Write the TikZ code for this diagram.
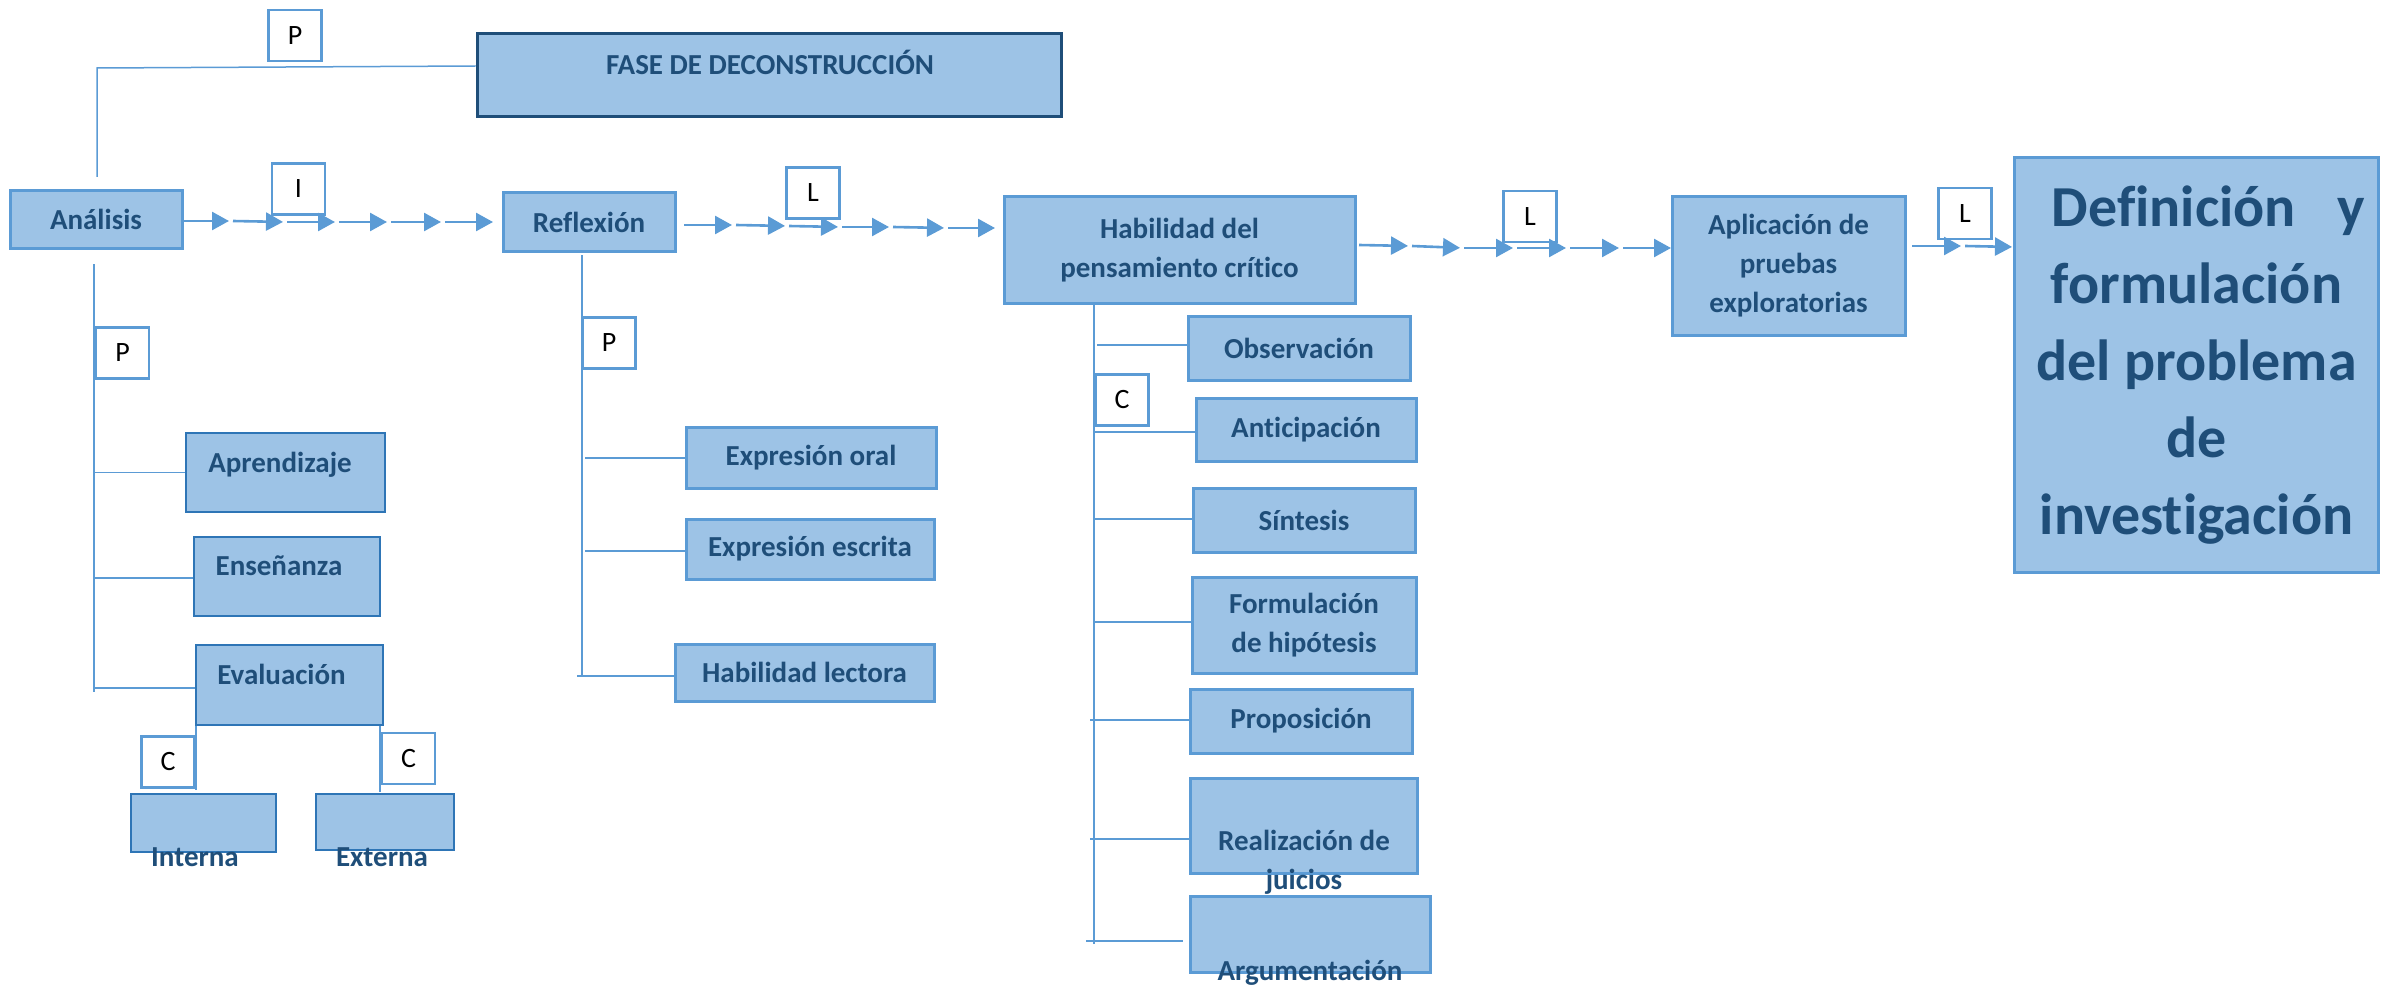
\documentclass[tikz,border=0pt]{standalone}
\usepackage{fontspec}
\setmainfont{Carlito}[Ligatures=NoCommon]
\usetikzlibrary{arrows.meta}
\definecolor{relleno}{HTML}{9DC3E6}
\definecolor{borde}{HTML}{5B9BD5}
\definecolor{bordeosc}{HTML}{2E75B6}
\definecolor{marino}{HTML}{1F4E79}
\newcommand{\fuentecaja}{\bfseries\fontsize{29}{39}\selectfont}
\newcommand{\fuentegrande}{\bfseries\fontsize{58}{77}\selectfont}
\newcommand{\fuenteletra}{\fontsize{28}{34}\selectfont}

\begin{document}
\begin{tikzpicture}[x=1pt, y=-1pt,
    tam/.style 2 args={minimum width=#1pt, minimum height=#2pt},
    caja/.style={draw=borde, fill=relleno, line width=3pt, text=marino,
      font=\fuentecaja, align=center, inner sep=0pt},
    cajaosc/.style={caja, draw=bordeosc, line width=2.5pt},
    rotulo/.style={text=marino, font=\fuentecaja, align=center, inner sep=0pt},
    letra/.style={draw=borde, fill=white, line width=2.5pt, inner sep=0pt,
      tam={53}{51}, font=\fuenteletra},
    rama/.style={draw=borde, line width=1.5pt},
    flecha/.style={draw=borde, line width=2.6pt, shorten >=4pt,
      -{Triangle[length=17pt, width=18pt]}}]
  \useasboundingbox (0,0) rectangle (2382,987);

  % cajas
  \path
    (769,75.5) node[caja, draw=marino, tam={584}{83}] (fase) {}
    (96,219.5) node[caja, tam={172}{57}] (ana) {Análisis}
    (589,222) node[caja, tam={172}{58}] (ref) {Reflexión}
    (1179.5,250) node[caja, tam={351}{106}] (hab) {Habilidad del\\pensamiento crítico}
    (1788.5,266) node[caja, tam={233}{138}] (apl) {Aplicación de\\pruebas\\exploratorias}
    (2196.5,365) node[caja, tam={364}{414}, font=\fuentegrande] (def)
      {\hspace*{24pt}Definición\hspace{42pt}y\\formulación\hspace*{29pt}\\del problema\\de\\investigación}
    (285.5,472.5) node[cajaosc, tam={199}{79}] (apr) {}
    (287,576.5) node[cajaosc, tam={186}{79}] (ens) {}
    (289.5,685) node[cajaosc, tam={187}{80}] (eva) {}
    (203.5,823) node[cajaosc, tam={145}{58}] (int) {}
    (385,822) node[cajaosc, tam={138}{56}] (ext) {}
    (811,457.5) node[caja, tam={250}{61}] (expo) {Expresión oral}
    (810,549) node[caja, tam={248}{60}] (exps) {Expresión escrita}
    (804.5,672.5) node[caja, tam={259}{57}] (hlec) {Habilidad lectora}
    (1299,348) node[caja, tam={222}{64}] (obs) {Observación}
    (1306,429.5) node[caja, tam={220}{63}] (ant) {Anticipación}
    (1304,520) node[caja, tam={222}{64}] (sin) {Síntesis}
    (1304,625) node[caja, tam={224}{96}] (form) {Formulación\\de hipótesis}
    (1301,721) node[caja, tam={222}{64}] (pro) {Proposición}
    (1303.5,825.5) node[caja, tam={227}{95}] (rea) {}
    (1310,934) node[caja, tam={240}{76}] (arg) {};

  % textos sueltos
  \path
    (770,75) node[rotulo, anchor=base] (fasetxt) {FASE DE DECONSTRUCCIÓN}
    (280,472) node[rotulo, anchor=base] (aprtxt) {Aprendizaje}
    (279,575) node[rotulo, anchor=base] (enstxt) {Enseñanza}
    (281.5,684) node[rotulo, anchor=base] (evatxt) {Evaluación}
    (195,866) node[rotulo, anchor=base] (inttxt) {Interna}
    (382,866) node[rotulo, anchor=base] (exttxt) {Externa}
    (1304,862) node[rotulo] (reatxt) {Realización de\\juicios}
    (1310,980) node[rotulo, anchor=base] (argtxt) {Argumentación};

  % letras
  \path
    (295,35.5) node[letra] (p1) {P}
    (298.5,189) node[letra] (i1) {I}
    (813,193) node[letra] (l1) {L}
    (1530,216.5) node[letra] (l2) {L}
    (1965,213.5) node[letra] (l3) {L}
    (122.5,353) node[letra] (p2) {P}
    (609,343) node[letra] (p3) {P}
    (1122,400) node[letra] (c1) {C}
    (168,762) node[letra] (c2) {C}
    (408.5,758.5) node[letra] (c3) {C};

  % puntos de las ramas
  \path
    (97,68) coordinate (fa1) (97,177) coordinate (fa2)
    (94,264) coordinate (ta0) (94,692) coordinate (ta1)
    (94,472.5) coordinate (ba1) (94,578) coordinate (ba2) (94,688) coordinate (ba3)
    (196,790) coordinate (ei) (380,792) coordinate (ee)
    (582,255) coordinate (tr0) (582,676) coordinate (tr1)
    (585,458) coordinate (br1) (585,551) coordinate (br2) (577,676) coordinate (br3)
    (1094,303) coordinate (th0) (1094,944) coordinate (th1)
    (1097,345) coordinate (bh1) (1094,432) coordinate (bh2) (1094,519) coordinate (bh3)
    (1094,622) coordinate (bh4) (1090,720) coordinate (bh5) (1090,839) coordinate (bh6)
    (1086,941) coordinate (bh7) (1183,941) coordinate (bh8);

  \begin{scope}[rama]
    \draw ([yshift=9.5pt]fase.west) -- (fa1) -- (fa2);
    \draw (ta0) -- (ta1);
    \draw (ba1) -- (ba1 -| apr.west);
    \draw (ba2) -- (ba2 -| ens.west);
    \draw (ba3) -- (ba3 -| eva.west);
    \draw (ei |- eva.south) -- (ei);
    \draw (ee |- eva.south) -- (ee);
    \draw (tr0) -- (tr1);
    \draw (br1) -- (br1 -| expo.west);
    \draw (br2) -- (br2 -| exps.west);
    \draw (br3) -- (br3 -| hlec.west);
    \draw (th0) -- (th1);
    \draw (bh1) -- (bh1 -| obs.west);
    \draw (bh2) -- (bh2 -| ant.west);
    \draw (bh3) -- (bh3 -| sin.west);
    \draw (bh4) -- (bh4 -| form.west);
    \draw (bh5) -- (bh5 -| pro.west);
    \draw (bh6) -- (bh6 -| rea.west);
    \draw (bh7) -- (bh8);
  \end{scope}

  % cadenas de flechas
  \path
    (182,221) coordinate (a0) (233,221) coordinate (a1) (287,222) coordinate (a2)
    (339,222) coordinate (a3) (391,222) coordinate (a4) (445,222) coordinate (a5)
    (497,222) coordinate (a6)
    (684,225) coordinate (b0) (736,225) coordinate (b1) (789,226) coordinate (b2)
    (842,227) coordinate (b3) (893,227) coordinate (b4) (948,228) coordinate (b5)
    (999,228) coordinate (b6)
    (1359,245) coordinate (c0) (1412,246) coordinate (c1) (1464,248) coordinate (c2)
    (1517,248) coordinate (c3) (1570,248) coordinate (c4) (1623,248) coordinate (c5)
    (1675,248) coordinate (c6)
    (1912,246) coordinate (d0) (1965,246) coordinate (d1) (2016,247) coordinate (d2);

  \begin{scope}[flecha]
    \draw (a0) -- (a1);
    \draw (a1) -- (a2);
    \draw (a2) -- (a3);
    \draw (a3) -- (a4);
    \draw (a4) -- (a5);
    \draw (a5) -- (a6);
    \draw (b0) -- (b1);
    \draw (b1) -- (b2);
    \draw (b2) -- (b3);
    \draw (b3) -- (b4);
    \draw (b4) -- (b5);
    \draw (b5) -- (b6);
    \draw (c0) -- (c1);
    \draw (c1) -- (c2);
    \draw (c2) -- (c3);
    \draw (c3) -- (c4);
    \draw (c4) -- (c5);
    \draw (c5) -- (c6);
    \draw (d0) -- (d1);
    \draw (d1) -- (d2);
  \end{scope}
\end{tikzpicture}
\end{document}
